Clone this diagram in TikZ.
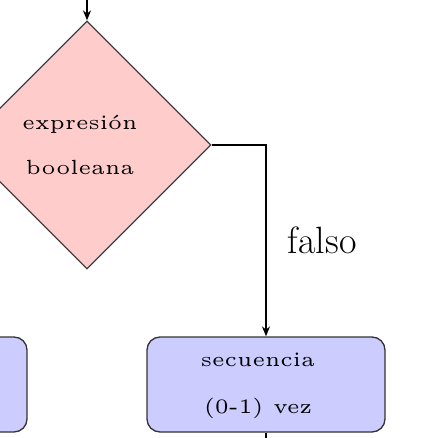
\documentclass[tikz,border=0pt]{standalone}
\usetikzlibrary{shapes.geometric,arrows.meta}
\newcommand{\smalltxt}[1]{\scalebox{4.1}{\fontsize{5}{6}\selectfont #1}}
\begin{document}
\begin{tikzpicture}[x=1pt,y=-1pt,
  decision/.style={diamond,draw=black!75,fill=red!20,line width=1.3pt,minimum width=248pt,minimum height=248pt,inner sep=0pt,aspect=1,align=center},
  block/.style={rectangle,rounded corners=13pt,draw=black!80,fill=blue!20,line width=1.3pt,minimum width=238pt,minimum height=95pt,inner sep=0pt,align=center},
  txt/.style={inner sep=0pt,anchor=base},
  conn/.style={draw=black,line width=1.3pt},
  arr/.style={conn,-{Stealth[length=10pt,width=8pt]}}]
\useasboundingbox (0,0) rectangle (434,438);
\node[decision] (dec) at (87,145) {};
\node[block] (right) at (266,384.5) {};
\node[block] (left) at (-92,384.5) {};
\node[txt] (d1) at (80,130) {\smalltxt{expresión}};
\node[txt] (d2) at (80,175) {\smalltxt{booleana}};
\node[txt] (b1) at (258,366) {\smalltxt{secuencia}};
\node[txt] (b2) at (258,413) {\smalltxt{(0-1) vez}};
\coordinate (top) at (87,-10);
\coordinate (bot) at (266,450);
\draw[arr] (top) -- (dec.north);
\draw[arr] (dec.east) -| node[pos=0.75,right=18pt,font=\fontsize{38}{40}\selectfont] {falso} (right.north);
\draw[conn] (right.south) -- (bot);
\end{tikzpicture}
\end{document}
